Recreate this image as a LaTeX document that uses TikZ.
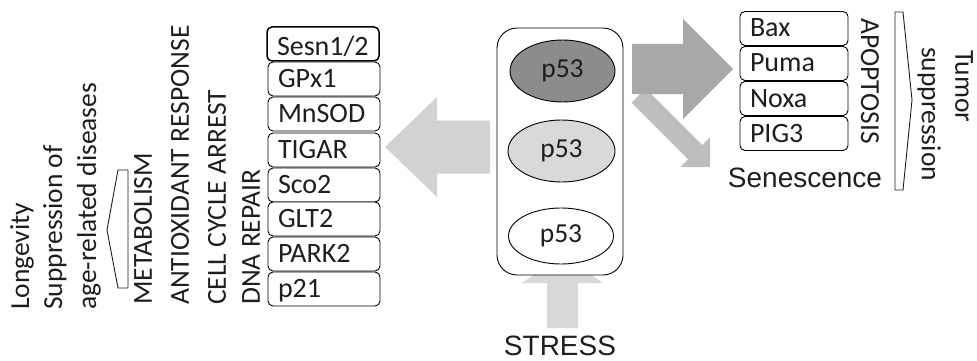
\documentclass[tikz,border=0pt]{standalone}
\usepackage{fontspec}
\setmainfont{Carlito}
\newfontfamily\arialf{Liberation Sans}
\usetikzlibrary{shapes.geometric}
\definecolor{inkc}{HTML}{1E1E1E}
\definecolor{arrA}{HTML}{A8A8A8}
\definecolor{arrB}{HTML}{BDBDBD}
\definecolor{arrC}{HTML}{D2D2D2}
\definecolor{arrD}{HTML}{D8D8D8}
\definecolor{ellDark}{HTML}{8C8C8C}
\definecolor{ellLight}{HTML}{D9D9D9}
\begin{document}
\begin{tikzpicture}[x=1pt,y=-1pt,
  txt/.style={inner sep=0pt, text=inkc, font=\fontsize{27.5}{30}\selectfont},
  atxt/.style={inner sep=0pt, text=inkc, font=\arialf\fontsize{28}{30}\selectfont},
  genebox/.style={draw=black, line width=0.9pt, rounded corners=5pt, fill=white,
    minimum height=34pt, align=left, inner xsep=10pt, inner ysep=0pt,
    text height=20pt, text depth=3pt, text=inkc, font=\fontsize{28}{30}\selectfont},
  leftbox/.style={genebox, text width=92pt},
  rightbox/.style={genebox, text width=88pt},
  pfive/.style={ellipse, draw=black, line width=0.9pt, minimum width=105pt, minimum height=62pt,
    inner sep=0pt, text=inkc, font=\fontsize{27.5}{30}\selectfont},
  pent/.style={draw=inkc, line width=0.9pt, fill=white, line join=round}
]
\useasboundingbox (0,0) rectangle (977,361);

% ---- left outcome texts ----
\node[txt, rotate=90, anchor=west] (lon) at (22,310) {Longevity};
\node[txt, rotate=90, anchor=west] (sup) at (55,310) {Suppression of};
\node[txt, rotate=90, anchor=west] (age) at (89,310) {age-related diseases};
\draw[pent] (128,170) -- (118,170) -- (107,230) -- (118,288) -- (128,288) -- cycle;
\node[txt, rotate=90, anchor=west] (met) at (143,305) {METABOLISM};
\node[txt, rotate=90, anchor=west] (ant) at (180,305) {ANTIOXIDANT RESPONSE};
\node[txt, rotate=90, anchor=west] (cca) at (217,305) {CELL CYCLE ARREST};
\node[txt, rotate=90, anchor=west] (dna) at (251,305) {DNA REPAIR};

% ---- left gene boxes ----
\node[leftbox, line width=1.5pt, text height=23pt, text depth=0pt] (b1) at (323,44) {Sesn1/2};
\node[leftbox] (b2) at (324,79) {GPx1};
\node[leftbox] (b3) at (324,114) {MnSOD};
\node[leftbox] (b4) at (324,150) {TIGAR};
\node[leftbox] (b5) at (324,185) {Sco2};
\node[leftbox] (b6) at (324,219) {GLT2};
\node[leftbox] (b7) at (324,254) {PARK2};
\node[leftbox] (b8) at (324,289) {p21};

% ---- block arrows ----
% left arrow
\fill[arrC] (490,120.5) -- (437,120.5) -- (437,97) -- (385,147) -- (437,197) -- (437,173.5) -- (490,173.5) -- cycle;
% stress arrow
\fill[arrD] (547,328) -- (547,283) -- (522,283) -- (562.5,255) -- (603,283) -- (578,283) -- (578,328) -- cycle;
% diagonal arrow
\fill[arrB] (645.7,88.5) -- (702.2,145.1) -- (710,137.3) -- (710,167) -- (680.3,167) -- (688.1,159.2) -- (631.5,102.7) -- cycle;
% dark right arrow
\fill[arrA] (632,44) -- (683,44) -- (683,19) -- (733,69) -- (683,119) -- (683,94) -- (632,94) -- cycle;

% ---- central p53 box ----
\node[draw=black, line width=0.9pt, rounded corners=20pt, fill=white,
      minimum width=126pt, minimum height=247pt, inner sep=0pt] (core) at (560,151.5) {};
\node[pfive, fill=ellDark] (pA) at (562.5,71) {p53};
\node[pfive, fill=ellLight, minimum width=107pt] (pB) at (561.5,151) {p53};
\node[pfive, fill=white, minimum height=56pt] (pC) at (561,236) {p53};
\node[atxt] (stress) at (560,346) {STRESS};

% ---- right gene boxes ----
\node[rightbox] (r1) at (794,28.5) {Bax};
\node[rightbox] (r2) at (794,63.5) {Puma};
\node[rightbox] (r3) at (794,98.5) {Noxa};
\node[rightbox] (r4) at (794,133.5) {PIG3};
\node[txt, rotate=-90, anchor=west] (apo) at (870,18) {APOPTOSIS};
\node[atxt] (sen) at (805,178) {Senescence};
\draw[pent] (895,12) -- (903,12) -- (912,100) -- (903,190) -- (895,190) -- cycle;
\node[txt, rotate=-90, anchor=west] (sps) at (929,47) {suppression};
\node[txt, rotate=-90, anchor=west] (tum) at (964,50) {Tumor};
\end{tikzpicture}
\end{document}
